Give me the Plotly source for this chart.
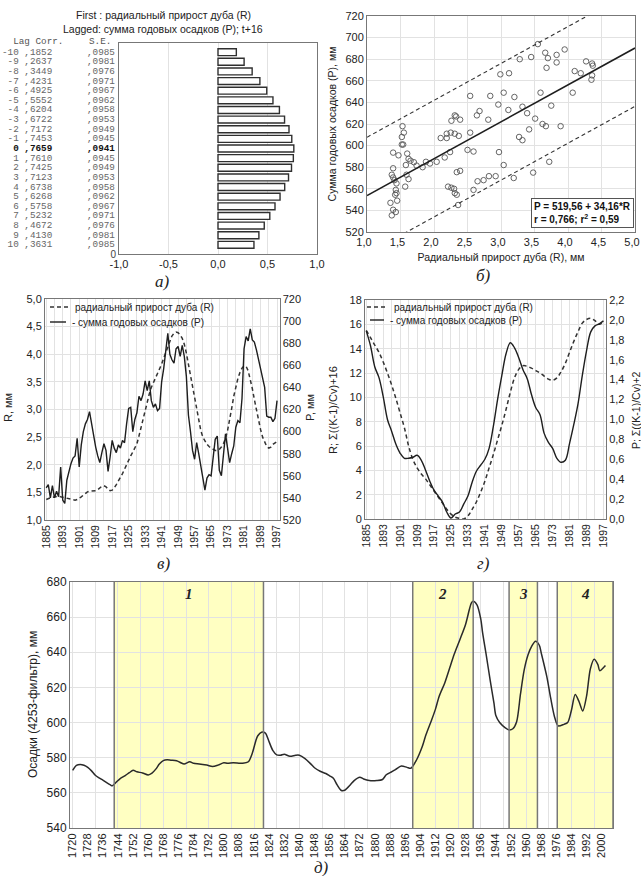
import plotly.graph_objects as go

W, H = 641, 876
def px(x): return x / W
def py(y): return 1 - y / H

FONT = "Liberation Sans"
SERIF = "Liberation Serif"
MONO = "Liberation Mono"
GRID = "#e2e2e2"
AXL = "#777777"
INK = "#1e1e1e"
NB = "\u00a0"

# ---------------- panel а: cross-correlation ----------------
lags = list(range(-10, 11))
corr = [0.1852, 0.2637, 0.3449, 0.4231, 0.4925, 0.5552, 0.6204, 0.6722, 0.7172, 0.7453,
        0.7659, 0.7610, 0.7425, 0.7123, 0.6738, 0.6268, 0.5758, 0.5232, 0.4672, 0.4130, 0.3631]
se = [0.0985, 0.0981, 0.0976, 0.0971, 0.0967, 0.0962, 0.0958, 0.0953, 0.0949, 0.0945,
      0.0941, 0.0945, 0.0949, 0.0953, 0.0958, 0.0962, 0.0967, 0.0971, 0.0976, 0.0981, 0.0985]
ticks_a = [-1.0, -0.5, 0.0, 0.5, 1.0]
title_a = ["First : радиальный прирост дуба (R)", "Lagged: сумма годовых осадков (P); t+16"]
table_head = ["Lag", "Corr.", "S.E."]

# ---------------- panel б: scatter ----------------
R_obs = [1.53, 1.55, 1.52, 1.52, 1.54, 2.10, 2.19, 2.19, 2.25, 2.31, 2.37, 2.26, 2.31, 2.33, 2.39,
         2.54, 2.54, 2.64, 2.68, 2.81, 2.84, 2.96, 2.99, 3.04, 3.12, 3.11, 3.20, 3.28, 3.27, 3.32,
         3.32, 3.39, 3.42, 3.45, 3.51, 3.55, 3.59, 3.62, 3.67, 3.66, 3.68, 3.70, 3.75, 3.83, 3.83,
         3.89, 3.95, 4.07, 4.10, 4.19, 4.27, 4.35, 4.36, 4.36, 4.37,
         1.39, 1.47, 1.60, 1.62, 1.58, 1.65, 1.70, 1.74, 1.83, 1.88, 1.94, 2.04, 1.59, 1.62, 1.57,
         1.39, 1.37, 1.39, 1.41, 1.44, 1.43, 1.42, 1.45, 1.35, 1.39, 1.43, 1.37, 1.44, 2.16, 2.24,
         2.34, 2.39, 2.21, 2.26, 2.30, 2.31, 2.34, 2.36, 2.59, 2.50, 2.59, 2.65, 2.74, 2.82, 2.92,
         2.97, 3.04, 3.19, 3.48, 3.72]
P_obs = [618, 612, 608, 601, 601, 607, 607, 611, 612, 611, 609, 623, 628, 627, 624,
         646, 612, 628, 632, 624, 646, 638, 666, 649, 667, 633, 645, 680, 608, 605,
         636, 630, 615, 682, 625, 694, 649, 620, 618, 686, 672, 681, 637, 684, 677,
         618, 689, 649, 669, 667, 678, 661, 665, 676, 674,
         593.5, 591, 592.6, 587.7, 582, 586, 584.6, 581.5, 580, 585, 583.4, 585, 573, 569, 562,
         579, 573, 570.5, 568, 565, 559, 554.5, 549, 547, 540.6, 538.5, 535.4, 556, 589, 594,
         575.4, 576.6, 562, 561, 560, 556, 554.5, 545, 559, 596, 594.5, 567, 568, 571.7, 571.7,
         594, 582, 570, 575, 585]
reg_intercept = 519.56
reg_slope = 34.16
reg_r = 0.766
reg_r2 = 0.59
band_half = 54.0
R_line = [1.0, 5.0]

# ---------------- panel в: annual series ----------------
years_c = list(range(1885, 1998))
R_c = [1.37, 1.39, 1.40, 1.41, 1.42, 1.43, 1.43, 1.42, 1.41, 1.40,
       1.39, 1.38, 1.37, 1.36, 1.36, 1.37, 1.39, 1.42, 1.45, 1.48,
       1.51, 1.52, 1.52, 1.52, 1.53, 1.55, 1.58, 1.61, 1.62, 1.60,
       1.56, 1.53, 1.54, 1.58, 1.64, 1.70, 1.76, 1.84, 1.92, 2.01,
       2.09, 2.16, 2.23, 2.30, 2.38, 2.52, 2.68, 2.84, 2.99, 3.14,
       3.28, 3.40, 3.48, 3.55, 3.63, 3.72, 3.82, 3.93, 4.04, 4.15,
       4.26, 4.33, 4.38, 4.40, 4.39, 4.35, 4.29, 4.18, 4.02, 3.82,
       3.60, 3.38, 3.16, 2.96, 2.78, 2.62, 2.50, 2.42, 2.37, 2.33,
       2.30, 2.28, 2.26, 2.26, 2.28, 2.32, 2.38, 2.48, 2.62, 2.80,
       3.02, 3.24, 3.42, 3.56, 3.67, 3.75, 3.79, 3.78, 3.70, 3.56,
       3.38, 3.18, 2.98, 2.80, 2.64, 2.50, 2.40, 2.33, 2.30, 2.32,
       2.37, 2.40, 2.42]
P_c = [549, 552, 540, 551, 540, 546, 541, 568, 538, 535,
       556, 565, 571, 576, 578, 594, 568, 588, 600, 607,
       611, 618, 606, 594, 586, 578, 572, 581, 589, 583,
       564, 577, 592, 585, 581, 588, 585, 592, 590, 607,
       621, 622, 600, 611, 617, 632, 628, 634, 646, 637,
       646, 628, 622, 625, 619, 621, 645, 657, 672, 689,
       670, 665, 662, 675, 677, 668, 678, 668, 650, 615,
       600, 583, 575, 590, 580, 568, 558, 547, 558, 561,
       560, 578, 593, 596, 565, 560, 580, 598, 585, 572,
       580, 587, 604, 610, 608, 630, 675, 686, 682, 693,
       683, 681, 674, 666, 657, 649, 640, 614, 613, 613,
       609, 612, 628]
ticks_c = list(range(1885, 1998, 8))

# ---------------- panel г: cumulative deviations ----------------
years_d = list(range(1885, 1998, 2))
cum_R = [15.5, 14.9, 14.3, 13.7, 12.9, 12.0, 11.0, 9.9, 8.7, 7.5,
         6.0, 4.9, 4.2, 3.7, 3.3, 2.8, 2.3, 1.8, 1.3, 0.8,
         0.4, 0.15, 0.05, 0.0, 0.25, 0.8, 1.4, 2.2, 3.1, 4.2,
         5.3, 6.5, 7.7, 9.0, 10.4, 11.6, 12.3, 12.6, 12.55, 12.4,
         12.2, 12.0, 11.75, 11.5, 11.4, 11.6, 12.1, 12.8, 13.7, 14.6,
         15.4, 16.1, 16.4, 16.5, 16.3, 16.0, 16.2]
cum_P = [1.89, 1.74, 1.53, 1.42, 1.23, 1.00, 0.88, 0.75, 0.66, 0.61,
         0.61, 0.62, 0.64, 0.59, 0.49, 0.38, 0.29, 0.23, 0.17, 0.07,
         0.01, 0.05, 0.07, 0.15, 0.23, 0.37, 0.48, 0.54, 0.60, 0.71,
         0.93, 1.20, 1.44, 1.66, 1.77, 1.72, 1.62, 1.50, 1.41, 1.25,
         1.12, 1.05, 0.86, 0.77, 0.71, 0.61, 0.57, 0.59, 0.76, 0.95,
         1.16, 1.44, 1.69, 1.88, 1.94, 1.96, 1.99]

name_R = "радиальный прирост дуба (R)"
name_P = "- сумма годовых осадков (P)"

# ---------------- panel д: filtered precipitation ----------------
years_e = [1720, 1722, 1724, 1726, 1728, 1730, 1732, 1734, 1736, 1738, 1740, 1741, 1743, 1745,
           1748, 1750, 1752, 1754, 1757, 1760, 1762, 1764, 1766, 1768, 1770, 1772, 1775, 1777,
           1779, 1782, 1784, 1787, 1791, 1794, 1797, 1800, 1802, 1805, 1808, 1810, 1813, 1815,
           1817, 1818, 1820, 1822, 1824, 1826, 1828, 1830, 1832, 1835, 1838, 1840, 1843, 1846,
           1848, 1851, 1854, 1856, 1858, 1860, 1862, 1864, 1867, 1869, 1872, 1874, 1877, 1881,
           1884, 1886, 1889, 1891, 1894, 1897, 1899, 1902, 1905, 1907, 1910, 1912, 1914, 1917,
           1920, 1922, 1925, 1928, 1930, 1931, 1932, 1934, 1936, 1937, 1939, 1941, 1943, 1944,
           1946, 1949, 1951, 1953, 1955, 1957, 1959, 1961, 1963, 1965, 1967, 1968, 1971, 1973,
           1975, 1977, 1980, 1982, 1984, 1986, 1988, 1990, 1992, 1994, 1996, 1998, 1999, 2001, 2002]
precip_e = [572.8, 575.6, 576.2, 575.7, 574.5, 572.5, 570.0, 568.5, 567.2, 565.8, 564.5, 564.0, 566.0, 568.0,
            570.0, 571.5, 572.8, 572.0, 571.3, 570.2, 571.2, 573.5, 576.5, 578.3, 578.8, 578.6, 578.3, 577.3,
            576.4, 577.7, 576.8, 576.4, 575.8, 575.0, 575.8, 577.1, 576.8, 577.1, 576.9, 576.8, 577.7, 582.3,
            589.8, 592.5, 594.5, 594.0, 589.0, 584.0, 581.6, 581.4, 582.0, 580.8, 581.4, 581.4, 579.5, 576.5,
            574.3, 572.3, 571.0, 569.7, 568.3, 564.5, 561.5, 561.5, 564.6, 567.0, 568.9, 567.9, 567.0, 567.0,
            567.6, 570.3, 572.1, 573.4, 575.3, 574.5, 574.0, 578.7, 586.2, 593.0, 601.5, 607.5, 615.0, 622.7,
            632.5, 639.0, 647.3, 656.0, 664.5, 668.0, 669.0, 667.0, 659.0, 651.0, 637.8, 624.0, 611.0, 604.0,
            600.0, 597.0, 595.8, 596.5, 600.5, 616.0, 630.0, 638.5, 643.5, 646.3, 644.0, 639.7, 626.0, 614.0,
            603.5, 598.1, 599.0, 600.0, 607.0, 616.0, 612.0, 606.6, 615.0, 630.5, 636.0, 633.0, 629.5, 631.3, 632.5]
region_start = [1742, 1900, 1951, 1976.5]
region_end = [1821, 1932, 1966, 2006]
region_label = ["1", "2", "3", "4"]
ticks_e = list(range(1720, 2001, 8))

captions = ["а)", "б)", "в)", "г)", "д)"]
axis_titles = {"c_left": "R, мм", "c_right": "P, мм",
               "d_left": "R; Σ((K-1)/Cv)+16", "d_right": "P; Σ((K-1)/Cv)+2",
               "e_left": "Осадки (4253-фильтр), мм"}

def comma(v, n):
    return f"{v:.{n}f}".replace(".", ",")

fig = go.Figure()

# panel а bars
fig.add_trace(go.Bar(x=corr, y=lags, orientation="h", width=0.72,
                     marker=dict(color="white", line=dict(color="#303030", width=1.4)),
                     xaxis="x", yaxis="y", showlegend=False, hoverinfo="skip"))

# panel б
fig.add_trace(go.Scatter(x=R_obs, y=P_obs, mode="markers", xaxis="x2", yaxis="y2",
                         marker=dict(symbol="circle-open", size=5.5, color="#555",
                                     line=dict(width=0.9)),
                         showlegend=False, hoverinfo="skip"))
P_fit = [reg_intercept + reg_slope * r for r in R_line]
fig.add_trace(go.Scatter(x=R_line, y=P_fit, mode="lines", xaxis="x2", yaxis="y2",
                         line=dict(color=INK, width=1.6), showlegend=False, hoverinfo="skip"))
for sgn in (1, -1):
    fig.add_trace(go.Scatter(x=R_line, y=[p + sgn * band_half for p in P_fit], mode="lines",
                             xaxis="x2", yaxis="y2",
                             line=dict(color="#333", width=1.1, dash="4px,3px"),
                             showlegend=False, hoverinfo="skip"))

DASH = dict(color="#333", width=1.5, dash="4px,3px")
SOLID = dict(color=INK, width=1.4)

# panel в
fig.add_trace(go.Scatter(x=years_c, y=R_c, mode="lines", name=name_R, xaxis="x3", yaxis="y3",
                         line=DASH, showlegend=False, hoverinfo="skip"))
fig.add_trace(go.Scatter(x=years_c, y=P_c, mode="lines", name=name_P, xaxis="x3", yaxis="y4",
                         line=SOLID, showlegend=False, hoverinfo="skip"))

# panel г
fig.add_trace(go.Scatter(x=years_d, y=cum_R, mode="lines", name=name_R, xaxis="x4", yaxis="y5",
                         line=dict(DASH, shape="spline"), showlegend=False, hoverinfo="skip"))
fig.add_trace(go.Scatter(x=years_d, y=cum_P, mode="lines", name=name_P, xaxis="x4", yaxis="y6",
                         line=dict(SOLID, shape="spline"), showlegend=False, hoverinfo="skip"))

# panel д
fig.add_trace(go.Scatter(x=years_e, y=precip_e, mode="lines", xaxis="x5", yaxis="y7",
                         line=dict(color="#2a2a2a", width=1.5, shape="spline", smoothing=0.8),
                         showlegend=False, hoverinfo="skip"))
fig.add_trace(go.Scatter(x=[years_e[0]], y=[precip_e[0]], mode="markers", xaxis="x6", yaxis="y7",
                         marker=dict(opacity=0), showlegend=False, hoverinfo="skip"))

tickf = dict(family=FONT, size=11, color="#222")
base = dict(showline=True, mirror=True, linecolor=AXL, linewidth=1, gridcolor=GRID,
            tickfont=tickf, ticks="", zeroline=False, automargin=False)
xt10 = dict(family=FONT, size=10.5, color="#222")

fig.update_layout(
    width=W, height=H, margin=dict(l=0, r=0, t=0, b=0),
    paper_bgcolor="white", plot_bgcolor="white", showlegend=False,
    separators=", ", font=dict(family=FONT, size=11, color="#222"),
    xaxis=dict(base, domain=[px(119), px(317)], anchor="y", range=[-1, 1],
               tickvals=ticks_a, ticktext=[comma(v, 1) for v in ticks_a], showgrid=True),
    yaxis=dict(base, domain=[py(254), py(43)], anchor="x", range=[10.95, -10.95],
               tickvals=[10.95], ticktext=["0"], showgrid=False,
               tickfont=dict(family=FONT, size=10, color="#444")),
    xaxis2=dict(base, domain=[px(367), px(635)], anchor="y2", range=[1, 5], dtick=0.5,
                tickformat=".1f", showgrid=True, ticklabelshift=-3, ticklabeloverflow="allow",
                title=dict(text="Радиальный прирост дуба (R), мм", font=dict(size=10.5), standoff=6)),
    yaxis2=dict(base, domain=[py(232), py(16)], anchor="x2", range=[520, 720], dtick=20,
                showgrid=True,
                title=dict(text="Сумма годовых осадков (P), мм", font=dict(size=10.5), standoff=6)),
    xaxis3=dict(base, domain=[px(45), px(279.5)], anchor="y3", range=[1884.4, 1998.2],
                tickvals=ticks_c, tickangle=-90, showgrid=True, tickfont=xt10,
                minor=dict(tick0=1885, dtick=4, showgrid=True, gridcolor=GRID)),
    yaxis3=dict(base, domain=[py(520), py(299)], anchor="x3", range=[1, 5], dtick=0.5,
                tickformat=".1f", showgrid=True, mirror=False),
    yaxis4=dict(base, overlaying="y3", side="right", anchor="x3", range=[520, 720], dtick=20,
                showgrid=False, mirror=False),
    xaxis4=dict(base, domain=[px(365), px(606)], anchor="y5", range=[1884.4, 1998.2],
                tickvals=ticks_c, tickangle=-90, showgrid=True, tickfont=xt10,
                minor=dict(tick0=1885, dtick=4, showgrid=True, gridcolor=GRID)),
    yaxis5=dict(base, domain=[py(519), py(300)], anchor="x4", range=[0, 18], dtick=2,
                showgrid=True, mirror=False),
    yaxis6=dict(base, overlaying="y5", side="right", anchor="x4", range=[0, 2.2], dtick=0.2,
                tickformat=".1f", showgrid=False, mirror=False),
    xaxis5=dict(base, domain=[px(70), px(613)], anchor="y7", range=[1718.6, 2006],
                tickvals=ticks_e, tickangle=-90, showgrid=False,
                tickfont=dict(family=FONT, size=11, color="#222")),
    xaxis6=dict(overlaying="x5", anchor="y7", range=[1718.6, 2006], tick0=1720, dtick=12,
                showgrid=True, gridcolor=GRID, showticklabels=False, ticks="",
                showline=False, zeroline=False),
    yaxis7=dict(base, domain=[py(828), py(582)], anchor="x5", range=[540, 680], dtick=20,
                showgrid=True, tickfont=dict(family=FONT, size=12, color="#222")),
)

ann = []
def A(text, x, y, size=11, family=FONT, color="#222", xa="center", ya="middle", **kw):
    ann.append(dict(text=text, x=px(x), y=py(y), xref="paper", yref="paper", xanchor=xa,
                    yanchor=ya, showarrow=False, font=dict(family=family, size=size, color=color),
                    **kw))

# panel а titles
for i, t in enumerate(title_a):
    A(t, 163, 15 + 14 * i, size=10.5)
# table header (monospace row, spaces kept as non-breaking)
head = f"  {table_head[0]} {table_head[1]}".replace(" ", NB)
A(head, 0.5, 42, size=9.3, family=MONO, color="#555", xa="left", borderpad=0)
A(table_head[2], 88, 42, size=9.3, family=MONO, color="#555", xa="left", borderpad=0)
for lag, c, s in zip(lags, corr, se):
    bold = lag == 0
    col = "#111" if bold else "#666"
    row = f"{lag:>3} {comma(c, 4)[1:]}".replace(" ", NB)
    for txt, x in ((row, 0.5), (comma(s, 4)[1:], 86)):
        ann.append(dict(text=f"<b>{txt}</b>" if bold else txt, x=px(x), y=lag, xref="paper",
                        yref="y", xanchor="left", yanchor="middle", showarrow=False,
                        borderpad=0, font=dict(family=MONO, size=9.3, color=col)))
# panel б equation box
eq = (f"P = {comma(reg_intercept, 2)} + {comma(reg_slope, 2)}*R<br>"
      f"r = {comma(reg_r, 3)}; r<sup>2</sup> = {comma(reg_r2, 2)}")
A(f"<b>{eq}</b>", 634, 198, size=10, color="#111", xa="right", ya="top", align="left",
  bordercolor="#555", borderwidth=1, borderpad=2, bgcolor="white")
# captions
for txt, (x, y) in zip(captions, [(162, 281), (483, 275), (163, 563), (483, 563), (322, 867)]):
    A(f"<i>{txt}</i>", x, y, size=17, family=SERIF)
# axis titles drawn as rotated text
for key, (x, y, s) in {"c_left": (8, 408, 11), "c_right": (310, 408, 11),
                       "d_left": (333, 410, 11), "d_right": (636, 410, 10.5),
                       "e_left": (33, 705, 12)}.items():
    A(axis_titles[key], x, y, size=s, textangle=-90)
# hand-drawn legends for panels в and г
legend_rows = [
    (50, 68, 307, True, 73, name_R), (50, 66, 322, False, 70, name_P),
    (367, 387, 307, True, 392, name_R), (370, 384, 320, False, 388, name_P),
]
shapes = []
for x0, x1, y, dashed, tx, txt in legend_rows:
    shapes.append(dict(type="line", xref="paper", yref="paper", x0=px(x0), x1=px(x1),
                       y0=py(y), y1=py(y), line=DASH if dashed else SOLID))
    A(txt, tx, y, size=10, xa="left")
# region labels
for s, e, lab in zip(region_start, region_end, region_label):
    ann.append(dict(text=f"<b><i>{lab}</i></b>", x=(s + e) / 2, y=0.95, xref="x5",
                    yref="y7 domain", showarrow=False, xanchor="center", yanchor="middle",
                    font=dict(family=SERIF, size=15, color="#222")))

for s, e in zip(region_start, region_end):
    shapes.append(dict(type="rect", x0=s, x1=e, y0=0, y1=1, xref="x5", yref="y7 domain",
                       fillcolor="#ffffc2", line=dict(width=0), layer="below"))
    for xv in (s, e):
        shapes.append(dict(type="line", x0=xv, x1=xv, y0=0, y1=1, xref="x5", yref="y7 domain",
                           line=dict(color="#777", width=1.5), layer="above"))

fig.update_layout(annotations=ann, shapes=shapes)
fig.write_html("out.html", config={"displayModeBar": False},
               post_script="document.body.style.margin='0px';")
